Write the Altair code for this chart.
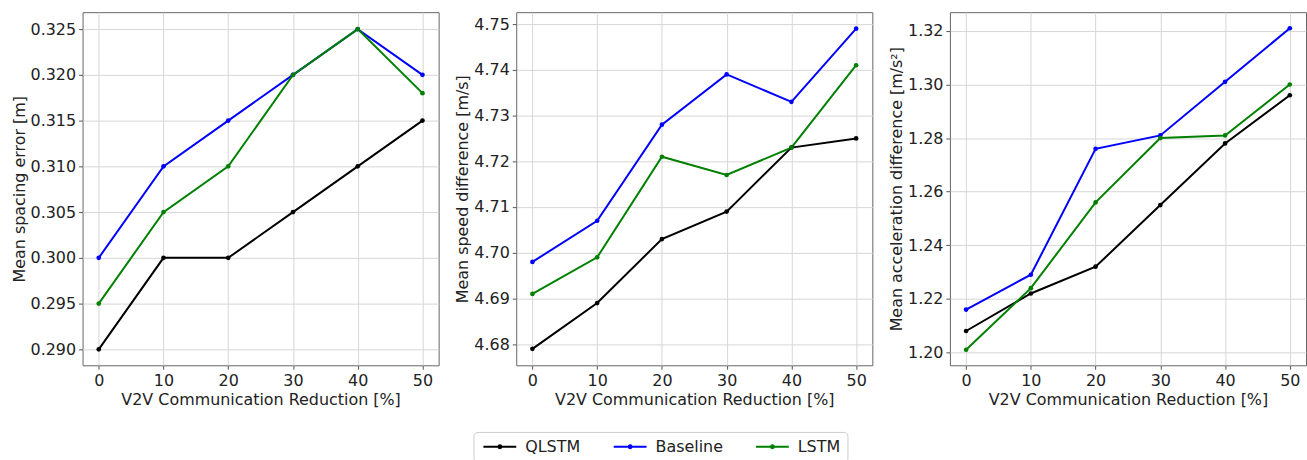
import altair as alt
import pandas as pd

reduction = [0, 10, 20, 30, 40, 50]
models = ["QLSTM", "Baseline", "LSTM"]
colors = ["#000000", "#0000ff", "#008000"]

spacing_qlstm = [0.290, 0.300, 0.300, 0.305, 0.310, 0.315]
spacing_baseline = [0.300, 0.310, 0.315, 0.320, 0.325, 0.320]
spacing_lstm = [0.295, 0.305, 0.310, 0.320, 0.325, 0.318]

speed_qlstm = [4.679, 4.689, 4.703, 4.709, 4.723, 4.725]
speed_baseline = [4.698, 4.707, 4.728, 4.739, 4.733, 4.749]
speed_lstm = [4.691, 4.699, 4.721, 4.717, 4.723, 4.741]

acc_qlstm = [1.208, 1.222, 1.232, 1.255, 1.278, 1.296]
acc_baseline = [1.216, 1.229, 1.276, 1.281, 1.301, 1.321]
acc_lstm = [1.201, 1.224, 1.256, 1.280, 1.281, 1.300]

x_ticks = [0, 10, 20, 30, 40, 50]
spacing_ticks = [0.290, 0.295, 0.300, 0.305, 0.310, 0.315, 0.320, 0.325]
speed_ticks = [4.68, 4.69, 4.70, 4.71, 4.72, 4.73, 4.74, 4.75]
acc_ticks = [1.20, 1.22, 1.24, 1.26, 1.28, 1.30, 1.32]


def make_df(q, b, l):
    rows = []
    for name, vals in zip(models, [q, b, l]):
        for x, y in zip(reduction, vals):
            rows.append({"x": x, "y": y, "model": name})
    return pd.DataFrame(rows)


# line with a dot in its middle; drawn to the right of the nominal 10px symbol box
legend_symbol = "M-1,0L5.6,0M2.0,0A0.3,0.3,0,1,1,2.6,0A0.3,0.3,0,1,1,2.0,0Z"


def panel(df, title, domain, ticks, fmt):
    base = alt.Chart(df).encode(
        x=alt.X("x:Q",
                scale=alt.Scale(domain=[-2.5, 52.5], nice=False, zero=False),
                axis=alt.Axis(values=x_ticks, title="V2V Communication Reduction [%]")),
        y=alt.Y("y:Q",
                scale=alt.Scale(domain=domain, nice=False, zero=False),
                axis=alt.Axis(values=ticks, format=fmt, title=title)),
        color=alt.Color("model:N",
                        scale=alt.Scale(domain=models, range=colors),
                        sort=models,
                        legend=alt.Legend(
                            title=None, orient="none", direction="horizontal",
                            legendX=393, legendY=422,
                            symbolType=legend_symbol, symbolSize=100,
                            symbolStrokeWidth=2, labelFontSize=16,
                            labelOffset=29, columnPadding=29,
                            padding=7, strokeColor="#cccccc",
                            fillColor="white", cornerRadius=4,
                            labelColor="#222222")),
    )
    lines = base.mark_line(strokeWidth=2)
    pts = base.mark_point(filled=True, size=22, opacity=1)
    return alt.layer(lines, pts).properties(width=358, height=355)


p1 = panel(make_df(spacing_qlstm, spacing_baseline, spacing_lstm),
           "Mean spacing error [m]", [0.28826, 0.32685], spacing_ticks, ".3f")
p2 = panel(make_df(speed_qlstm, speed_baseline, speed_lstm),
           "Mean speed difference [m/s]", [4.6754, 4.7526], speed_ticks, ".2f")
p3 = panel(make_df(acc_qlstm, acc_baseline, acc_lstm),
           "Mean acceleration difference [m/s²]", [1.1952, 1.327], acc_ticks, ".2f")

chart = alt.hconcat(p1, p2, p3, spacing=14).properties(
    padding={"left": 10, "top": 10, "right": 0, "bottom": 0}
).configure(
    font="DejaVu Sans"
).configure_axis(
    labelFontSize=16, titleFontSize=16, titleFontWeight="normal",
    labelColor="#222222", titleColor="#222222",
    gridColor="#d6d6d6", gridWidth=1,
    domain=False, tickColor="#555555", tickSize=4, labelPadding=3,
    titlePadding=3
).configure_view(
    stroke="#666666", strokeWidth=1
)

chart.save("out.html", embed_options={"renderer": "svg", "actions": False})
